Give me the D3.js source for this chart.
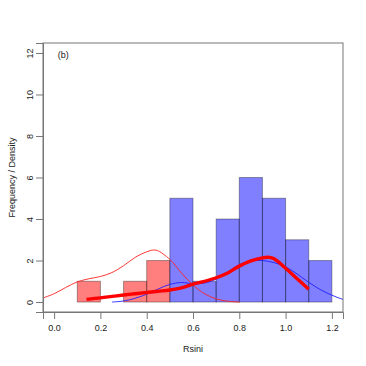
<!DOCTYPE html>
<html>
<head>
<meta charset="utf-8">
<script src="https://cdn.jsdelivr.net/npm/d3@7"></script>
<style>
  body { margin: 0; background: #fff; }
  svg text { font-family: "Liberation Sans", Arial, sans-serif; fill: #222; }
</style>
</head>
<body>
<div class="graph"></div>
<script>
// histogram bins (left edge, count)
var redBinStarts = [0.1, 0.2, 0.3, 0.4];
var redCounts = [1, 0, 1, 2];
var blueBinStarts = [0.5, 0.6, 0.7, 0.8, 0.9, 1.0, 1.1];
var blueCounts = [5, 1, 4, 6, 5, 3, 2];
var binWidth = 0.1;

// thin density curves
var redDensX = [-0.06, 0.0, 0.05, 0.1, 0.15, 0.2, 0.25, 0.3, 0.35, 0.4, 0.44, 0.5, 0.55, 0.6, 0.65, 0.7, 0.75, 0.8];
var redDensY = [0.15, 0.4, 0.7, 0.97, 1.12, 1.23, 1.42, 1.75, 2.15, 2.42, 2.5, 2.05, 1.4, 0.82, 0.4, 0.15, 0.04, 0.0];
var blueDensX = [0.25, 0.3, 0.35, 0.4, 0.45, 0.5, 0.55, 0.6, 0.65, 0.7, 0.75, 0.8, 0.85, 0.9, 0.95, 1.0, 1.05, 1.1, 1.15, 1.2, 1.25, 1.27];
var blueDensY = [0.0, 0.05, 0.18, 0.38, 0.63, 0.85, 0.94, 0.88, 0.92, 1.1, 1.45, 1.8, 1.98, 2.0, 1.9, 1.7, 1.35, 0.95, 0.6, 0.33, 0.12, 0.07];

// thick smoothed line
var fitX = [0.14, 0.2, 0.25, 0.3, 0.35, 0.4, 0.45, 0.5, 0.55, 0.6, 0.65, 0.7, 0.75, 0.8, 0.85, 0.9, 0.93, 0.95, 1.0, 1.05, 1.1];
var fitY = [0.13, 0.2, 0.27, 0.34, 0.4, 0.46, 0.52, 0.58, 0.68, 0.86, 1.0, 1.17, 1.4, 1.73, 1.98, 2.13, 2.15, 2.08, 1.63, 1.12, 0.62];

var xTicks = [0, 0.2, 0.4, 0.6, 0.8, 1.0, 1.2];
var yTicks = [0, 2, 4, 6, 8, 10, 12];

var W = 366, H = 366;
var box = {left: 43, right: 343, top: 43, bottom: 312};

var svg = d3.select('.graph').append('svg')
  .attr('width', W)
  .attr('height', H);

var xScale = d3.scaleLinear().domain([-0.048, 1.248]).range([box.left, box.right]);
var yScale = d3.scaleLinear().domain([-0.48, 12.48]).range([box.bottom, box.top]);

svg.append('clipPath').attr('id', 'plotclip')
  .append('rect')
  .attr('x', box.left).attr('y', box.top)
  .attr('width', box.right - box.left).attr('height', box.bottom - box.top);

var plot = svg.append('g').attr('clip-path', 'url(#plotclip)');

function drawHist(starts, counts, fill) {
  var bins = starts.map(function(s, i) { return {x0: s, x1: s + binWidth, n: counts[i]}; });
  plot.append('g').selectAll('rect').data(bins).enter().append('rect')
    .attr('x', function(d) { return xScale(d.x0); })
    .attr('y', function(d) { return yScale(d.n); })
    .attr('width', function(d) { return xScale(d.x1) - xScale(d.x0); })
    .attr('height', function(d) { return yScale(0) - yScale(d.n); })
    .attr('fill', fill)
    .attr('stroke', 'rgba(0,0,0,0.35)')
    .attr('stroke-width', 1);
}
drawHist(redBinStarts, redCounts, 'rgba(255,0,0,0.5)');
drawHist(blueBinStarts, blueCounts, 'rgba(0,0,255,0.5)');

var line = d3.line()
  .x(function(d) { return xScale(d[0]); })
  .y(function(d) { return yScale(d[1]); })
  .curve(d3.curveCatmullRom);

function zip(a, b) { return a.map(function(v, i) { return [v, b[i]]; }); }

plot.append('path').datum(zip(redDensX, redDensY))
  .attr('d', line).attr('fill', 'none').attr('stroke', '#ff2020').attr('stroke-width', 0.9);
plot.append('path').datum(zip(blueDensX, blueDensY))
  .attr('d', line).attr('fill', 'none').attr('stroke', '#2020ff').attr('stroke-width', 0.9);
plot.append('path').datum(zip(fitX, fitY))
  .attr('d', line).attr('fill', 'none').attr('stroke', '#ff0000').attr('stroke-width', 3.4)
  .attr('stroke-linecap', 'butt');

// frame
svg.append('rect')
  .attr('x', box.left).attr('y', box.top)
  .attr('width', box.right - box.left).attr('height', box.bottom - box.top)
  .attr('fill', 'none').attr('stroke', '#777').attr('stroke-width', 1);

var xAxis = d3.axisBottom(xScale).tickValues(xTicks).tickSize(7).tickPadding(6)
  .tickFormat(d3.format('.1f'));
var yAxis = d3.axisLeft(yScale).tickValues(yTicks).tickSize(7).tickPadding(6);

var gx = svg.append('g').attr('transform', 'translate(0,' + box.bottom + ')').call(xAxis);
var gy = svg.append('g').attr('transform', 'translate(' + box.left + ',0)').call(yAxis);
[gx, gy].forEach(function(g) {
  g.select('.domain').attr('stroke', '#777');
  g.selectAll('.tick line').attr('stroke', '#777');
  g.selectAll('.tick text').attr('font-size', 9).attr('fill', '#222')
    .attr('font-family', '"Liberation Sans", Arial, sans-serif');
});
// R style: y tick labels parallel to the axis
gy.selectAll('.tick text')
  .attr('x', 0).attr('y', 0).attr('dy', 0)
  .attr('text-anchor', 'middle')
  .attr('transform', 'translate(-10,0) rotate(-90)');

svg.append('text')
  .attr('x', (box.left + box.right) / 2).attr('y', 352)
  .attr('text-anchor', 'middle').attr('font-size', 9)
  .text('Rsini');

svg.append('text')
  .attr('transform', 'translate(12,' + ((box.top + box.bottom) / 2) + ') rotate(-90)')
  .attr('text-anchor', 'middle').attr('dy', '0.35em').attr('font-size', 9)
  .text('Frequency / Density');

svg.append('text')
  .attr('x', xScale(0.04)).attr('y', 58)
  .attr('text-anchor', 'middle').attr('font-size', 9)
  .text('(b)');
</script>
</body>
</html>
